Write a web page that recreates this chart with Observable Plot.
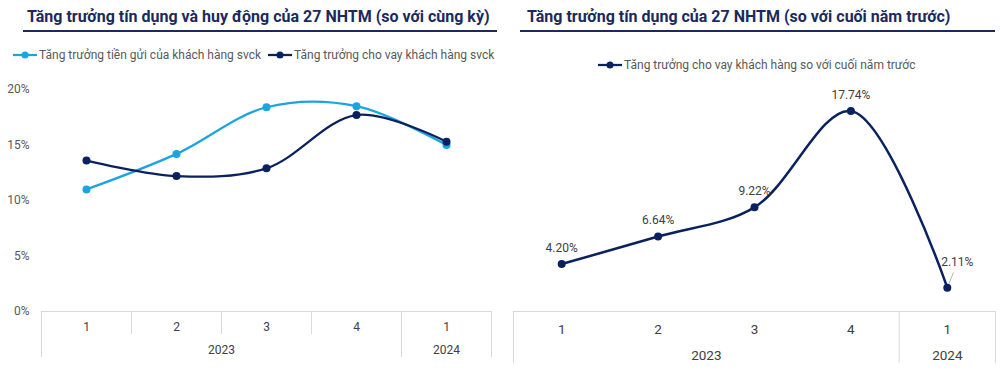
<!DOCTYPE html>
<html><head><meta charset="utf-8">
<script src="https://cdn.jsdelivr.net/npm/d3@7"></script>
<script src="https://cdn.jsdelivr.net/npm/@observablehq/plot@0.6"></script>
<style>
body{margin:0;background:#fff;font-family:Roboto,sans-serif}
#root{position:relative;width:1000px;height:391px;overflow:hidden;background:#fff}
.abs{position:absolute}
.title{font-weight:700;font-size:16px;color:#1b2a5c;white-space:nowrap;line-height:18px}
.rule{height:2px;background:#1b2a5c}
.legend{font-size:12px;color:#595959;display:flex;align-items:center;white-space:nowrap;line-height:14px}
.legend svg{display:block;margin-right:2px}
</style></head><body><div id="root"></div>
<script>
// ---- data ----
const quarters = ["1", "2", "3", "4", "1"];
const years = ["2023", "2023", "2023", "2023", "2024"];
const depositYoY = [11.0, 14.2, 18.4, 18.5, 15.0];
const loanYoY = [13.6, 12.2, 12.9, 17.7, 15.3];
const loanYtd = [4.20, 6.64, 9.22, 17.74, 2.11];
const yTicks = [0, 5, 10, 15, 20];
const leftTitle = "Tăng trưởng tín dụng và huy động của 27 NHTM (so với cùng kỳ)";
const rightTitle = "Tăng trưởng tín dụng của 27 NHTM (so với cuối năm trước)";
const depositName = "Tăng trưởng tiền gửi của khách hàng svck";
const loanName = "Tăng trưởng cho vay khách hàng svck";
const ytdName = "Tăng trưởng cho vay khách hàng so với cuối năm trước";

const LIGHT = "#1ba4e0", DARK = "#0a2160";
const n = quarters.length;
const root = document.getElementById("root");

function place(el, left, top) {
  el.classList.add("abs");
  el.style.left = left + "px";
  el.style.top = top + "px";
  root.appendChild(el);
  return el;
}
function div(cls, text) {
  const d = document.createElement("div");
  d.className = cls;
  if (text) d.textContent = text;
  return d;
}
function legendItem(color, name, w) {
  const d = div("legend");
  d.innerHTML = `<svg width="${w}" height="10"><line x1="0" x2="${w}" y1="5" y2="5" stroke="${color}" stroke-width="2.25"/><circle cx="${w/2}" cy="5" r="3.5" fill="${color}"/></svg>`;
  const s = document.createElement("span");
  s.textContent = name;
  d.appendChild(s);
  return d;
}

// year groups from categories
const groups = [];
years.forEach((y, i) => {
  const g = groups[groups.length - 1];
  if (g && g.year === y) g.end = i; else groups.push({year: y, start: i, end: i});
});
const yearBounds = Array.from(new Set(groups.flatMap(g => [g.start - 0.5, g.end + 0.5])));
const quarterBounds = d3.range(n + 1).map(i => i - 0.5);

const baseStyle = {background: "transparent", fontFamily: "Roboto, sans-serif", overflow: "visible"};
const xDomain = [-0.5, n - 0.5];

function axisTable({marginLeft, marginRight, rowH, fontSize, quarterSeps, dy}) {
  return Plot.plot({
    width: 500, height: 2 * rowH + 4, marginLeft, marginRight, marginTop: 1, marginBottom: 3,
    x: {domain: xDomain, axis: null},
    y: {domain: [2, 0], axis: null},
    style: baseStyle,
    marks: [
      Plot.ruleY([0], {x1: xDomain[0], x2: xDomain[1], stroke: "#d9d9d9", strokeWidth: 1}),
      quarterSeps ? Plot.ruleX(quarterBounds, {x: d => d, y1: 0, y2: 1, stroke: "#d9d9d9"}) : null,
      Plot.ruleX(yearBounds, {x: d => d, y1: 0, y2: 2, stroke: "#d9d9d9"}),
      Plot.text(quarters, {x: (d, i) => i, y: 0.5, text: d => d, dy, fontSize, fill: "#404040"}),
      Plot.text(groups, {x: g => (g.start + g.end) / 2, y: 1.5, text: g => g.year, dy, fontSize, fill: "#404040"})
    ]
  });
}

// ---- left chart ----
place(div("title", leftTitle), 27, 8);
const r1 = place(div("rule"), 23, 30); r1.style.width = (497 - 23) + "px";
place(legendItem(LIGHT, depositName, 24), 13, 48);
place(legendItem(DARK, loanName, 24), 268, 48);

const leftData = [
  ...depositYoY.map((v, i) => ({i, v, s: depositName})),
  ...loanYoY.map((v, i) => ({i, v, s: loanName}))
];
const colorOf = s => s === depositName ? LIGHT : DARK;

const leftPlot = Plot.plot({
  width: 500, height: 251, marginLeft: 41, marginRight: 9, marginTop: 19, marginBottom: 10,
  x: {domain: xDomain, axis: null},
  y: {domain: [0, 20]},
  style: baseStyle,
  marks: [
    Plot.axisY({ticks: yTicks, tickFormat: d => d + "%", tickSize: 0, tickPadding: 12, fontSize: 12, color: "#595959", label: null}),
    Plot.line(leftData, {x: "i", y: "v", z: "s", stroke: d => colorOf(d.s), strokeWidth: 2.25, curve: "catmull-rom"}),
    Plot.dot(leftData, {x: "i", y: "v", fill: d => colorOf(d.s), r: 4})
  ]
});
place(leftPlot, 0, 70);
place(axisTable({marginLeft: 41, marginRight: 9, rowH: 23, fontSize: 12, quarterSeps: true, dy: 4}), 0, 310);

// ---- right chart ----
place(div("title", rightTitle), 527, 8);
const r2 = place(div("rule"), 520, 30); r2.style.width = (995 - 520) + "px";
place(legendItem(DARK, ytdName, 24), 598, 58);

const rightData = loanYtd.map((v, i) => ({i, v, last: i === n - 1}));
const rightPlot = Plot.plot({
  width: 500, height: 251, marginLeft: 13, marginRight: 5, marginTop: 15, marginBottom: 10,
  x: {domain: xDomain, axis: null},
  y: {domain: [0, 20], axis: null},
  style: baseStyle,
  marks: [
    Plot.line(rightData, {x: "i", y: "v", stroke: DARK, strokeWidth: 2.5, curve: "catmull-rom"}),
    Plot.dot(rightData, {x: "i", y: "v", fill: DARK, r: 4}),
    Plot.text(rightData.filter(d => !d.last), {x: "i", y: "v", text: d => d.v.toFixed(2) + "%", dy: -16, fontSize: 12, fill: "#404040"}),
    Plot.text(rightData.filter(d => d.last), {x: "i", y: "v", text: d => d.v.toFixed(2) + "%", dx: 10, dy: -26, fontSize: 12, fill: "#404040"}),
    Plot.vector(rightData.filter(d => d.last), {x: "i", y: "v", length: 16, rotate: 22, anchor: "start", stroke: "#a6a6a6", strokeWidth: 0.75,
      shape: {draw(ctx, l) { ctx.moveTo(0, -4.5); ctx.lineTo(0, -l); }}})
  ]
});
place(rightPlot, 500, 70);
place(axisTable({marginLeft: 13, marginRight: 5, rowH: 26, fontSize: 13.5, quarterSeps: false, dy: 5}), 500, 310);
</script></body></html>
